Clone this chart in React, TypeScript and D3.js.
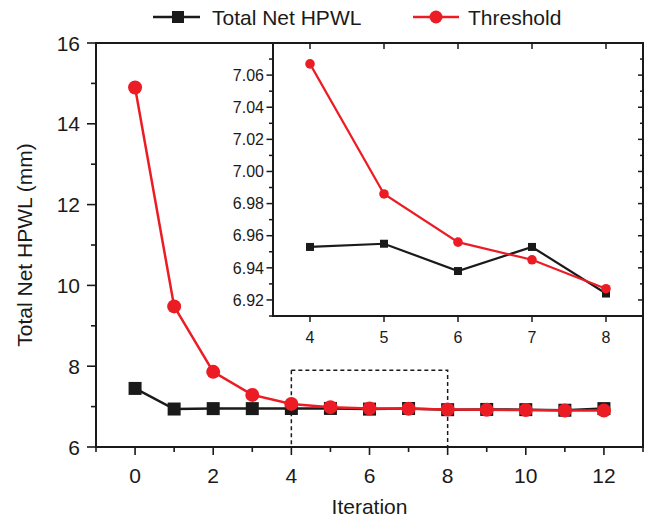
import React, { useEffect, useRef } from "react";
import * as d3 from "d3";

// main chart data
const iterations = [0, 1, 2, 3, 4, 5, 6, 7, 8, 9, 10, 11, 12];
const totalNetHPWL = [7.45, 6.94, 6.95, 6.95, 6.953, 6.955, 6.938, 6.953, 6.924, 6.93, 6.925, 6.91, 6.95];
const threshold = [14.9, 9.48, 7.86, 7.29, 7.067, 6.986, 6.956, 6.945, 6.927, 6.92, 6.915, 6.905, 6.905];

// inset (zoomed) range
const insetIterations = [4, 5, 6, 7, 8];
const insetYTicks = [6.92, 6.94, 6.96, 6.98, 7.0, 7.02, 7.04, 7.06];

const mainXTicks = [0, 2, 4, 6, 8, 10, 12];
const mainYTicks = [6, 8, 10, 12, 14, 16];

const BLACK = "#1a1a1a";
const RED = "#ec1c24";
const FONT = "Liberation Sans, Arial, sans-serif";

function App() {
  const ref = useRef<SVGSVGElement>(null);

  useEffect(() => {
    const svg = d3.select(ref.current);
    svg.selectAll("*").remove();

    const left = 96, right = 643, top = 43, bottom = 447;
    const x = d3.scaleLinear().domain([-1, 13]).range([left, right]);
    const y = d3.scaleLinear().domain([6, 16]).range([bottom, top]);

    const g = svg.append("g");

    // frame
    g.append("rect").attr("x", left).attr("y", top).attr("width", right - left).attr("height", bottom - top)
      .attr("fill", "none").attr("stroke", BLACK).attr("stroke-width", 2);

    // bottom axis ticks
    d3.range(-1, 14).forEach(v => {
      const major = v % 2 === 0;
      g.append("line").attr("x1", x(v)).attr("x2", x(v)).attr("y1", bottom).attr("y2", bottom + (major ? 8 : 5))
        .attr("stroke", BLACK).attr("stroke-width", 1.6);
    });
    mainXTicks.forEach(v => {
      g.append("text").attr("x", x(v)).attr("y", 483).attr("text-anchor", "middle")
        .attr("font-family", FONT).attr("font-size", 21).attr("fill", BLACK).text(v);
    });
    // left axis ticks
    d3.range(6, 17).forEach(v => {
      const major = v % 2 === 0;
      g.append("line").attr("x1", left).attr("x2", left - (major ? 9 : 5)).attr("y1", y(v)).attr("y2", y(v))
        .attr("stroke", BLACK).attr("stroke-width", 1.6);
    });
    mainYTicks.forEach(v => {
      g.append("text").attr("x", 80).attr("y", y(v)).attr("dy", "0.36em").attr("text-anchor", "end")
        .attr("font-family", FONT).attr("font-size", 21).attr("fill", BLACK).text(v);
    });

    // axis titles
    g.append("text").attr("x", x(6)).attr("y", 514).attr("text-anchor", "middle")
      .attr("font-family", FONT).attr("font-size", 21).attr("fill", BLACK).text("Iteration");
    g.append("text").attr("transform", `translate(32, ${(top + bottom) / 2}) rotate(-90)`).attr("text-anchor", "middle")
      .attr("font-family", FONT).attr("font-size", 21).attr("fill", BLACK).text("Total Net HPWL (mm)");

    // dashed zoom box
    g.append("rect").attr("x", x(4)).attr("y", y(7.9)).attr("width", x(8) - x(4)).attr("height", y(6) - y(7.9))
      .attr("fill", "none").attr("stroke", BLACK).attr("stroke-width", 1.5).attr("stroke-dasharray", "4,3");

    const line = d3.line<number>().x((d, i) => x(iterations[i])).y(d => y(d));

    // black series
    g.append("path").datum(totalNetHPWL).attr("d", line).attr("fill", "none").attr("stroke", BLACK).attr("stroke-width", 2.5);
    g.selectAll(".sq").data(totalNetHPWL).enter().append("rect")
      .attr("x", (d, i) => x(iterations[i]) - 6.5).attr("y", d => y(d) - 6.5)
      .attr("width", 13).attr("height", 13).attr("fill", BLACK);

    // red series
    g.append("path").datum(threshold).attr("d", line).attr("fill", "none").attr("stroke", RED).attr("stroke-width", 2.5);
    g.selectAll(".ci").data(threshold).enter().append("circle")
      .attr("cx", (d, i) => x(iterations[i])).attr("cy", d => y(d)).attr("r", 7).attr("fill", RED);

    // inset
    const il = 273, ir = 643, it = 43, ib = 316;
    const ix = d3.scaleLinear().domain([3.5, 8.5]).range([il, ir]);
    const iy = d3.scaleLinear().domain([6.91, 7.08]).range([ib, it]);
    const inset = svg.append("g");
    inset.append("rect").attr("x", il).attr("y", it).attr("width", ir - il).attr("height", ib - it)
      .attr("fill", "white").attr("stroke", BLACK).attr("stroke-width", 2);

    insetIterations.forEach(v => {
      inset.append("line").attr("x1", ix(v)).attr("x2", ix(v)).attr("y1", ib).attr("y2", ib + 6)
        .attr("stroke", BLACK).attr("stroke-width", 1.5);
      inset.append("line").attr("x1", ix(v)).attr("x2", ix(v)).attr("y1", it).attr("y2", it + 6)
        .attr("stroke", BLACK).attr("stroke-width", 1.5);
      inset.append("text").attr("x", ix(v)).attr("y", 343).attr("text-anchor", "middle")
        .attr("font-family", FONT).attr("font-size", 16).attr("fill", BLACK).text(v);
    });
    d3.range(0, 17).forEach(k => {
      const v = 6.91 + k * 0.01;
      const major = k % 2 === 1;
      inset.append("line").attr("x1", il).attr("x2", il - (major ? 6.5 : 4)).attr("y1", iy(v)).attr("y2", iy(v))
        .attr("stroke", BLACK).attr("stroke-width", 1.5);
      inset.append("line").attr("x1", ir).attr("x2", ir - (major ? 5 : 3)).attr("y1", iy(v)).attr("y2", iy(v))
        .attr("stroke", BLACK).attr("stroke-width", 1.5);
    });
    insetYTicks.forEach(v => {
      inset.append("text").attr("x", 264).attr("y", iy(v)).attr("dy", "0.36em").attr("text-anchor", "end")
        .attr("font-family", FONT).attr("font-size", 16).attr("fill", BLACK).text(v.toFixed(2));
    });

    const insetBlack = totalNetHPWL.slice(4, 9);
    const insetRed = threshold.slice(4, 9);
    const iline = d3.line<number>().x((d, i) => ix(insetIterations[i])).y(d => iy(d));
    inset.append("path").datum(insetBlack).attr("d", iline).attr("fill", "none").attr("stroke", BLACK).attr("stroke-width", 2.2);
    inset.selectAll(".isq").data(insetBlack).enter().append("rect")
      .attr("x", (d, i) => ix(insetIterations[i]) - 4).attr("y", d => iy(d) - 4)
      .attr("width", 8).attr("height", 8).attr("fill", BLACK);
    inset.append("path").datum(insetRed).attr("d", iline).attr("fill", "none").attr("stroke", RED).attr("stroke-width", 2.2);
    inset.selectAll(".ici").data(insetRed).enter().append("circle")
      .attr("cx", (d, i) => ix(insetIterations[i])).attr("cy", d => iy(d)).attr("r", 4.8).attr("fill", RED);

    // legend
    const lg = svg.append("g");
    lg.append("line").attr("x1", 153).attr("x2", 200).attr("y1", 17).attr("y2", 17).attr("stroke", BLACK).attr("stroke-width", 2.5);
    lg.append("rect").attr("x", 172).attr("y", 11).attr("width", 12).attr("height", 12).attr("fill", BLACK);
    lg.append("text").attr("x", 212).attr("y", 17).attr("dy", "0.36em").attr("font-family", FONT).attr("font-size", 21)
      .attr("fill", BLACK).text("Total Net HPWL");
    lg.append("line").attr("x1", 413).attr("x2", 459).attr("y1", 17).attr("y2", 17).attr("stroke", RED).attr("stroke-width", 2.5);
    lg.append("circle").attr("cx", 436).attr("cy", 17).attr("r", 6.5).attr("fill", RED);
    lg.append("text").attr("x", 468).attr("y", 17).attr("dy", "0.36em").attr("font-family", FONT).attr("font-size", 21)
      .attr("fill", BLACK).text("Threshold");
  }, []);

  return (
    <svg width={655} height={518} ref={ref} style={{ position: "absolute", left: 0, top: 0, background: "white" }}></svg>
  );
}

export default App;
